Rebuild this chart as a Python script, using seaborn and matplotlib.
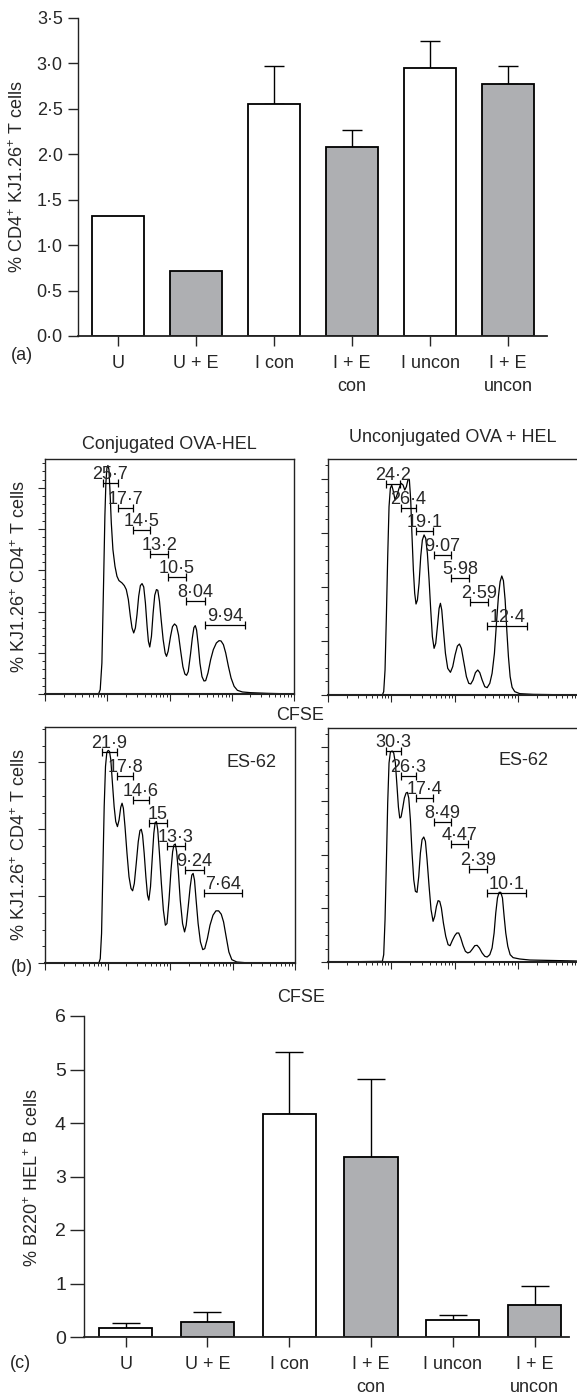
import numpy as np
import pandas as pd
import seaborn as sns
import matplotlib
matplotlib.use('Agg')
from matplotlib import pyplot as plt
from matplotlib.ticker import MultipleLocator, FuncFormatter, NullFormatter, LogLocator

W, H = 577, 1397

# ---- bar panels (a) and (c) ----
groups = ['U', 'U + E', 'I con', 'I + E\ncon', 'I uncon', 'I + E\nuncon']
bar_colors = ['white', '#aeafb2', 'white', '#aeafb2', 'white', '#aeafb2']

t_cells_mean = [1.32, 0.71, 2.55, 2.08, 2.95, 2.77]
t_cells_sem = [0.0, 0.0, 0.42, 0.19, 0.30, 0.20]

b_cells_mean = [0.17, 0.28, 4.16, 3.36, 0.31, 0.59]
b_cells_sem = [0.10, 0.19, 1.16, 1.47, 0.10, 0.36]

# ---- CFSE histograms (b): x in log decades, y in arbitrary counts ----
conj_x = [0.0, 0.860, 0.887, 0.914, 0.941, 0.962, 0.978, 0.995, 1.011, 1.027, 1.043, 1.065,
          1.091, 1.124, 1.156, 1.188, 1.237, 1.274, 1.306, 1.339, 1.371, 1.398, 1.425, 1.452,
          1.478, 1.505, 1.532, 1.559, 1.586, 1.613, 1.640, 1.661, 1.683, 1.710, 1.737, 1.763,
          1.790, 1.812, 1.839, 1.866, 1.898, 1.930, 1.952, 1.978, 2.016, 2.048, 2.081, 2.113,
          2.145, 2.177, 2.215, 2.247, 2.274, 2.301, 2.339, 2.366, 2.392, 2.414, 2.435, 2.462,
          2.489, 2.522, 2.554, 2.581, 2.618, 2.661, 2.704, 2.753, 2.796, 2.828, 2.866, 2.903,
          2.946, 2.989, 3.038, 3.091, 3.172, 3.306, 3.575, 4.0]
conj_y = [0.0, 0.0, 0.105, 0.752, 2.694, 4.312, 5.121, 5.485, 5.542, 5.445, 4.960, 4.151,
          3.503, 3.099, 2.856, 2.751, 2.694, 2.629, 2.532, 2.290, 1.885, 1.602, 1.481, 1.602,
          1.926, 2.371, 2.629, 2.678, 2.597, 2.209, 1.642, 1.278, 1.140, 1.399, 1.966, 2.395,
          2.532, 2.516, 2.249, 1.804, 1.319, 0.995, 0.914, 1.036, 1.392, 1.634, 1.699, 1.650,
          1.432, 1.068, 0.663, 0.485, 0.453, 0.542, 0.987, 1.351, 1.610, 1.659, 1.553, 1.189,
          0.744, 0.421, 0.316, 0.324, 0.510, 0.834, 1.076, 1.238, 1.294, 1.286, 1.197, 0.995,
          0.672, 0.388, 0.186, 0.089, 0.049, 0.032, 0.016, 0.0]
conj_gate_lo = [0.930, 1.172, 1.409, 1.694, 1.978, 2.269, 2.565]
conj_gate_hi = [1.172, 1.409, 1.683, 1.978, 2.258, 2.565, 3.210]
conj_gate_y = [5.12, 4.51, 3.97, 3.40, 2.83, 2.25, 1.67]
conj_pct = [25.7, 17.7, 14.5, 13.2, 10.5, 8.04, 9.94]

unconj_x = [0.0, 0.858, 0.879, 0.900, 0.921, 0.942, 0.963, 0.984, 1.005, 1.026, 1.058, 1.089,
            1.121, 1.153, 1.184, 1.211, 1.237, 1.263, 1.284, 1.305, 1.326, 1.347, 1.368, 1.389,
            1.411, 1.437, 1.463, 1.489, 1.516, 1.542, 1.568, 1.595, 1.621, 1.647, 1.674, 1.700,
            1.726, 1.753, 1.774, 1.795, 1.821, 1.853, 1.889, 1.932, 1.968, 2.005, 2.042, 2.074,
            2.105, 2.142, 2.184, 2.221, 2.253, 2.289, 2.326, 2.363, 2.395, 2.432, 2.474, 2.511,
            2.553, 2.589, 2.626, 2.658, 2.689, 2.716, 2.742, 2.768, 2.795, 2.821, 2.847, 2.874,
            2.905, 2.947, 3.026, 3.237, 3.974]
unconj_y = [0.0, 0.0, 0.062, 0.463, 1.451, 2.562, 3.488, 3.827, 3.889, 3.796, 3.611, 3.704,
            3.827, 3.920, 3.889, 3.796, 3.858, 3.994, 3.981, 3.611, 2.932, 2.315, 1.883, 1.685,
            1.759, 2.068, 2.562, 2.870, 2.963, 2.901, 2.623, 2.130, 1.574, 1.080, 0.864, 0.957,
            1.265, 1.605, 1.698, 1.574, 1.204, 0.772, 0.494, 0.420, 0.525, 0.741, 0.907, 0.944,
            0.864, 0.617, 0.340, 0.216, 0.204, 0.278, 0.414, 0.463, 0.414, 0.278, 0.154, 0.136,
            0.216, 0.401, 0.772, 1.327, 1.821, 2.099, 2.204, 2.117, 1.759, 1.204, 0.710, 0.340,
            0.142, 0.062, 0.025, 0.012, 0.0]
unconj_gate_lo = [0.921, 1.147, 1.395, 1.668, 1.947, 2.237, 2.516]
unconj_gate_hi = [1.142, 1.395, 1.658, 1.947, 2.226, 2.526, 3.142]
unconj_gate_y = [3.91, 3.46, 3.04, 2.59, 2.17, 1.73, 1.28]
unconj_pct = [24.2, 26.4, 19.1, 9.07, 5.98, 2.59, 12.4]

conj_es_x = [0.0, 0.862, 0.884, 0.905, 0.926, 0.947, 0.968, 0.989, 1.011, 1.032, 1.053, 1.079,
             1.106, 1.132, 1.159, 1.185, 1.212, 1.233, 1.254, 1.280, 1.312, 1.344, 1.376, 1.402,
             1.429, 1.460, 1.492, 1.519, 1.540, 1.561, 1.587, 1.614, 1.640, 1.661, 1.688, 1.714,
             1.741, 1.762, 1.783, 1.804, 1.831, 1.862, 1.894, 1.926, 1.952, 1.984, 2.016, 2.042,
             2.063, 2.085, 2.106, 2.132, 2.164, 2.201, 2.233, 2.259, 2.291, 2.323, 2.349, 2.370,
             2.392, 2.418, 2.450, 2.487, 2.524, 2.556, 2.598, 2.640, 2.688, 2.735, 2.778, 2.820,
             2.857, 2.899, 2.942, 2.989, 3.069, 3.201, 3.995]
conj_es_y = [0.0, 0.0, 0.065, 0.44, 1.39, 2.34, 2.94, 3.15, 3.18, 3.165, 3.04, 2.69,
             2.34, 2.115, 2.04, 2.14, 2.33, 2.39, 2.315, 2.04, 1.64, 1.29, 1.115, 1.08,
             1.19, 1.49, 1.815, 1.98, 2.0, 1.915, 1.64, 1.29, 1.015, 0.94, 1.14, 1.54,
             1.94, 2.10, 2.115, 1.99, 1.64, 1.19, 0.79, 0.565, 0.59, 0.94, 1.39, 1.665,
             1.765, 1.78, 1.665, 1.39, 0.94, 0.59, 0.465, 0.565, 0.84, 1.14, 1.315, 1.34,
             1.24, 0.94, 0.59, 0.315, 0.20, 0.215, 0.365, 0.565, 0.715, 0.78, 0.78, 0.73,
             0.615, 0.39, 0.165, 0.05, 0.015, 0.005, 0.0]
conj_es_gate_lo = [0.915, 1.153, 1.402, 1.667, 1.947, 2.233, 2.540]
conj_es_gate_hi = [1.153, 1.413, 1.667, 1.947, 2.233, 2.540, 3.159]
conj_es_gate_y = [3.16, 2.79, 2.44, 2.09, 1.75, 1.39, 1.04]
conj_es_pct = [21.9, 17.8, 14.6, 15, 13.3, 9.24, 7.64]

unconj_es_x = [0.0, 0.858, 0.879, 0.900, 0.921, 0.942, 0.963, 0.984, 1.011, 1.037, 1.063, 1.089,
               1.111, 1.132, 1.153, 1.179, 1.205, 1.232, 1.253, 1.274, 1.300, 1.326, 1.353, 1.379,
               1.405, 1.432, 1.458, 1.484, 1.511, 1.537, 1.563, 1.595, 1.626, 1.658, 1.684, 1.711,
               1.737, 1.763, 1.789, 1.821, 1.858, 1.895, 1.926, 1.963, 2.0, 2.032, 2.063, 2.095,
               2.132, 2.168, 2.205, 2.242, 2.279, 2.316, 2.353, 2.389, 2.432, 2.474, 2.511, 2.553,
               2.589, 2.621, 2.647, 2.674, 2.700, 2.726, 2.753, 2.779, 2.805, 2.837, 2.874, 2.921,
               3.026, 3.184, 3.921]
unconj_es_y = [0.0, 0.012, 0.137, 0.789, 1.845, 2.963, 3.708, 3.907, 3.932, 3.894, 3.708, 3.273,
               2.888, 2.683, 2.702, 2.870, 3.056, 3.149, 3.161, 3.056, 2.652, 2.031, 1.534, 1.317,
               1.298, 1.596, 2.031, 2.280, 2.329, 2.248, 1.907, 1.410, 0.975, 0.758, 0.851, 1.037,
               1.143, 1.130, 1.006, 0.727, 0.478, 0.323, 0.304, 0.404, 0.491, 0.540, 0.540, 0.447,
               0.304, 0.199, 0.168, 0.186, 0.242, 0.304, 0.311, 0.261, 0.168, 0.106, 0.093, 0.137,
               0.261, 0.540, 0.913, 1.193, 1.298, 1.298, 1.193, 0.851, 0.540, 0.292, 0.137, 0.081,
               0.056, 0.037, 0.019]
unconj_es_gate_lo = [0.921, 1.147, 1.395, 1.668, 1.937, 2.221, 2.511]
unconj_es_gate_hi = [1.147, 1.395, 1.658, 1.937, 2.211, 2.511, 3.132]
unconj_es_gate_y = [3.93, 3.47, 3.06, 2.60, 2.19, 1.73, 1.29]
unconj_es_pct = [30.3, 26.3, 17.4, 8.49, 4.47, 2.39, 10.1]

sns.set_style('ticks')
plt.rcParams['font.family'] = ['Liberation Sans', 'DejaVu Sans']
plt.rcParams['font.size'] = 13
plt.rcParams['mathtext.fontset'] = 'custom'
plt.rcParams['mathtext.rm'] = 'Liberation Sans'
plt.rcParams['mathtext.it'] = 'Liberation Sans:italic'
plt.rcParams['axes.edgecolor'] = '#222222'

fig = plt.figure(figsize=(W / 100, H / 100), dpi=100)


def rect(x0, y0, x1, y1):
    return [x0 / W, 1 - y1 / H, (x1 - x0) / W, (y1 - y0) / H]


def ftext(x, y, s, **kw):
    fig.text(x / W, 1 - y / H, s, ha='center', va='center', **kw)


def dot_fmt(nd):
    return FuncFormatter(lambda v, p: f'{v:.{nd}f}'.replace('.', '\u00b7'))


def bar_panel(ax, mean, sem, width, cap, ymax, step, nd, xlim):
    df = pd.DataFrame({'group': groups, 'value': mean})
    sns.barplot(data=df, x='group', y='value', hue='group', palette=bar_colors,
                legend=False, width=width, edgecolor='black', linewidth=1.3,
                saturation=1, ax=ax)
    idx = [i for i, s in enumerate(sem) if s > 0]
    ax.errorbar(idx, [mean[i] for i in idx],
                yerr=[[0] * len(idx), [sem[i] for i in idx]],
                fmt='none', ecolor='black', elinewidth=1, capsize=cap, capthick=1,
                zorder=0.5)
    ax.set_xlim(*xlim)
    ax.set_ylim(0, ymax)
    ax.yaxis.set_major_locator(MultipleLocator(step))
    ax.yaxis.set_major_formatter(dot_fmt(nd))
    ax.set_xlabel('')
    ax.set_ylabel('')
    sns.despine(ax=ax)
    ax.spines['left'].set_linewidth(1)
    ax.spines['bottom'].set_linewidth(1.3)
    ax.tick_params(axis='y', length=7, width=1, pad=4, labelsize=13)
    ax.tick_params(axis='x', length=7, width=1, pad=7, labelsize=13)
    for lbl in ax.get_xticklabels():
        lbl.set_linespacing(1.45)


# panel (a)
ax_a = fig.add_axes(rect(78, 18, 547, 336))
bar_panel(ax_a, t_cells_mean, t_cells_sem, 0.667, 7.5, 3.5, 0.5, 1, (-0.513, 5.5))
ftext(18, 177, '% CD4$^{+}$ KJ1.26$^{+}$ T cells', rotation=90)
ftext(22, 355, '(a)')

# panel (b)
hists = [
    (rect(45, 459, 294, 694), conj_x, conj_y, conj_gate_lo, conj_gate_hi, conj_gate_y, conj_pct, 5.7, 0.2),
    (rect(328, 459, 581.5, 695), unconj_x, unconj_y, unconj_gate_lo, unconj_gate_hi, unconj_gate_y, unconj_pct, 4.37, 0.25),
    (rect(45, 727, 295, 963), conj_es_x, conj_es_y, conj_es_gate_lo, conj_es_gate_hi, conj_es_gate_y, conj_es_pct, 3.53, 0.25),
    (rect(328, 728, 581.5, 962), unconj_es_x, unconj_es_y, unconj_es_gate_lo, unconj_es_gate_hi, unconj_es_gate_y, unconj_es_pct, 4.36, 0.25),
]
hist_axes = []
for pos, xd, yv, glo, ghi, gy, pct, ymax, minor in hists:
    ax = fig.add_axes(pos)
    sns.lineplot(x=10 ** np.array(xd), y=yv, ax=ax, color='black', linewidth=0.9,
                 estimator=None, sort=False)
    ax.set_xscale('log')
    ax.set_xlim(1, 1e4)
    ax.set_ylim(0, ymax)
    ax.xaxis.set_major_locator(LogLocator(base=10, numticks=10))
    ax.xaxis.set_minor_locator(LogLocator(base=10, subs=np.arange(2, 10), numticks=10))
    ax.xaxis.set_major_formatter(NullFormatter())
    ax.xaxis.set_minor_formatter(NullFormatter())
    ax.yaxis.set_major_locator(MultipleLocator(1))
    ax.yaxis.set_minor_locator(MultipleLocator(minor))
    ax.yaxis.set_major_formatter(NullFormatter())
    ax.tick_params(which='major', length=5, width=0.8, direction='out')
    ax.tick_params(which='minor', length=2.5, width=0.7, direction='out')
    for sp in ax.spines.values():
        sp.set_linewidth(1)
    ax.spines['bottom'].set_linewidth(1.5)
    for lo, hi, y, p in zip(glo, ghi, gy, pct):
        l, h = 10 ** lo, 10 ** hi
        m = np.sqrt(l * h)
        ax.errorbar(m, y, xerr=[[m - l], [h - m]], fmt='none', ecolor='black',
                    elinewidth=0.9, capsize=3, capthick=0.9)
        ax.text(m, y, f'{p:g}'.replace('.', '\u00b7'), ha='center', va='bottom',
                fontsize=13)
    ax.set_xlabel('')
    ax.set_ylabel('')
    hist_axes.append(ax)

hist_axes[0].set_title('Conjugated OVA-HEL', fontsize=13, pad=7)
ftext(453, 438, 'Unconjugated OVA + HEL', fontsize=13)
hist_axes[2].text(10 ** 3.30, 3.0, 'ES-62', ha='center', va='center', fontsize=13)
hist_axes[3].text(10 ** 3.08, 3.76, 'ES-62', ha='center', va='center', fontsize=13)
ftext(20, 577, '% KJ1.26$^{+}$ CD4$^{+}$ T cells', rotation=90)
ftext(20, 845, '% KJ1.26$^{+}$ CD4$^{+}$ T cells', rotation=90)
ftext(300, 716, 'CFSE')
ftext(301, 998, 'CFSE')
ftext(22, 967, '(b)')

# panel (c)
ax_c = fig.add_axes(rect(84, 1016, 569, 1337))
bar_panel(ax_c, b_cells_mean, b_cells_sem, 0.65, 10, 6, 1, 0, (-0.51, 5.42))
ax_c.tick_params(axis='y', length=10, pad=3, labelsize=14)
ftext(33, 1178, '% B220$^{+}$ HEL$^{+}$ B cells', rotation=90)
ftext(20, 1363, '(c)')

fig.savefig('out.png', dpi=100)
